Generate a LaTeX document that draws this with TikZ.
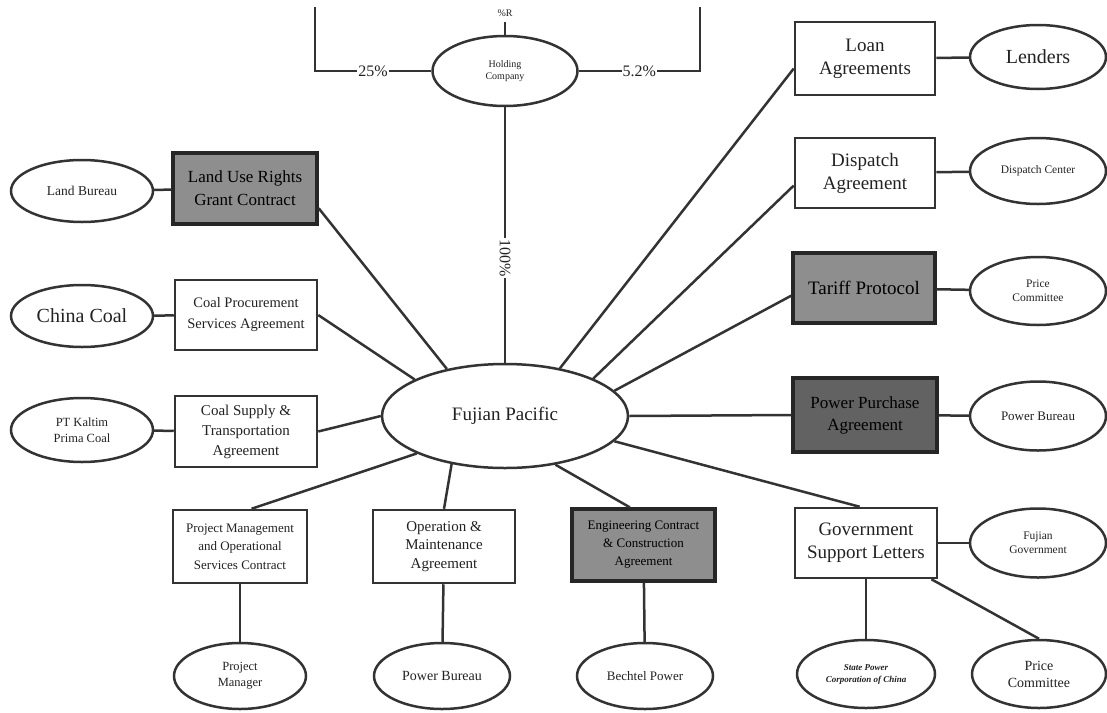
\documentclass[tikz,border=0pt]{standalone}
\usepackage{fontspec}
\setmainfont{Liberation Serif}
\usetikzlibrary{shapes.geometric,calc}
\definecolor{ink}{HTML}{333333}
\definecolor{txt}{HTML}{222222}
\definecolor{shade}{HTML}{8E8E8E}
\definecolor{shadedark}{HTML}{626262}
\newcommand\myfs[2]{\fontsize{#1}{#2}\selectfont}
\begin{document}
\begin{tikzpicture}[x=1pt,y=-1pt,
 line/.style={draw=ink,line width=2.5pt},
 ell/.style={ellipse,draw=ink,line width=2.5pt,fill=white,inner sep=0pt,align=center,text=txt},
 box/.style={rectangle,draw=ink,line width=2.5pt,fill=white,inner sep=0pt,align=center,text=txt},
 gbox/.style={box,fill=shade,draw=black!85,line width=3.4pt,text=black},
 lbl/.style={fill=white,inner sep=1pt,text=txt}]
\fill[white] (0,0) rectangle (1107,712);
\useasboundingbox (0,0) rectangle (1107,712);

% ---- holding company
\node[ell,minimum width=145,minimum height=70,font=\myfs{10}{12}] (hc) at (505,71) {Holding\\Company};
\coordinate (c1) at (315,71);
\coordinate (c2) at (315,7);
\coordinate (c3) at (700,71);
\coordinate (c4) at (700,7);
\coordinate (ct) at (505,22);
\node[text=txt,inner sep=0pt,font=\myfs{10}{12}] (rt) at (505,13) {\%R};

% ---- centre
\node[ell,minimum width=246,minimum height=104,font=\myfs{19}{22}] (fp) at (505,416) {Fujian Pacific};

% ---- left column
\node[ell,minimum width=142,minimum height=62,font=\myfs{13.5}{15}] (lb) at (82,191) {Land Bureau};
\node[gbox,minimum width=144,minimum height=71,font=\myfs{17}{23}] (lu) at (245,188.5) {Land Use Rights\\Grant Contract};
\node[ell,minimum width=142,minimum height=62,font=\myfs{20}{23}] (cc) at (82,316) {China Coal};
\node[box,minimum width=142,minimum height=70,font=\myfs{14.5}{21}] (cp) at (246,315) {Coal Procurement\\Services Agreement};
\node[ell,minimum width=142,minimum height=64,font=\myfs{12.5}{16}] (pt) at (82,430) {PT Kaltim\\Prima Coal};
\node[box,minimum width=142,minimum height=71,font=\myfs{15}{20}] (cs) at (246,431.5) {Coal Supply \&\\Transportation\\Agreement};

% ---- bottom row
\node[box,minimum width=134,minimum height=73,font=\myfs{13}{18.5}] (pmc) at (240,546.5) {Project Management\\and Operational\\Services Contract};
\node[box,minimum width=142,minimum height=73,font=\myfs{15}{18.5}] (om) at (444,546.5) {Operation \&\\Maintenance\\Agreement};
\node[gbox,minimum width=143,minimum height=72,font=\myfs{13}{18}] (ec) at (643.5,545) {Engineering Contract\\\& Construction\\Agreement};
\node[ell,minimum width=132,minimum height=66,font=\myfs{12.5}{16}] (pm) at (240,676) {Project\\Manager};
\node[ell,minimum width=136,minimum height=66,font=\myfs{14}{16}] (pw) at (442,676) {Power Bureau};
\node[ell,minimum width=136,minimum height=66,font=\myfs{13}{16}] (bp) at (645,676) {Bechtel Power};

% ---- right column
\node[box,minimum width=140,minimum height=73,font=\myfs{19}{23}] (la) at (865,58.5) {Loan\\Agreements};
\node[ell,minimum width=136,minimum height=64,font=\myfs{20}{23}] (le) at (1038,57) {Lenders};
\node[box,minimum width=140,minimum height=70,font=\myfs{19}{23}] (da) at (865,173) {Dispatch\\Agreement};
\node[ell,minimum width=136,minimum height=66,font=\myfs{11.5}{13}] (dc) at (1038,171) {Dispatch Center};
\node[gbox,minimum width=142,minimum height=70,font=\myfs{19}{22}] (tp) at (864,288) {Tariff Protocol};
\node[ell,minimum width=136,minimum height=68,font=\myfs{11.5}{14}] (pc1) at (1038,291) {Price\\Committee};
\node[gbox,fill=shadedark,minimum width=144,minimum height=74,font=\myfs{17}{22}] (ppa) at (865,415) {Power Purchase\\Agreement};
\node[ell,minimum width=136,minimum height=69,font=\myfs{13}{15}] (pb1) at (1038,416) {Power Bureau};
\node[box,minimum width=142,minimum height=70,font=\myfs{19}{23}] (gv) at (866,543) {Government\\Support Letters};
\node[ell,minimum width=136,minimum height=69,font=\myfs{11.5}{14}] (fg) at (1038,543) {Fujian\\Government};
\node[ell,minimum width=138,minimum height=68,font=\myfs{9}{12}\itshape\bfseries] (sp) at (866,674) {State Power\\Corporation of China};
\node[ell,minimum width=134,minimum height=68,font=\myfs{14}{17}] (pc2) at (1039,674) {Price\\Committee};

% ---- connectors
\draw[line] (hc.west) -- node[lbl,font=\myfs{16}{18}]{25\%} (c1) -- (c2);
\draw[line] (hc.east) -- node[lbl,font=\myfs{16}{18}]{5.2\%} (c3) -- (c4);
\draw[line] (hc.north) -- (ct);
\draw[line] (hc.south) -- node[lbl,pos=0.59,rotate=-90,font=\myfs{16}{18}]{100\%} (fp.north);

\draw[line] (lb) -- (lu);
\draw[line] (cc) -- (cp);
\draw[line] (pt) -- (cs);
\draw[line] (lu.-15) -- (fp.141);
\draw[line] (cp.east) -- (fp.158);
\draw[line] (cs.east) -- (fp.180);
\draw[line] (pmc.73) -- (fp.203);
\draw[line] (om.north) -- (fp.222);
\draw[line] (ec.110) -- (fp.-44);
\draw[line] (pmc) -- (pm);
\draw[line] (om) -- (pw);
\draw[line] (ec) -- (bp);

\draw[line] (la.188) -- (fp.41);
\draw[line] (da.190) -- (fp.23);
\draw[line] (tp.186) -- (fp.13);
\draw[line] (ppa.west) -- (fp.east);
\draw[line] (gv.100) -- (fp.-13);
\draw[line] (la) -- (le);
\draw[line] (da) -- (dc);
\draw[line] (tp) -- (pc1);
\draw[line] (ppa) -- (pb1);
\draw[line] (gv) -- (fg);
\draw[line] (gv) -- (sp);
\draw[line] (gv.-29) -- (pc2.north);
\end{tikzpicture}
\end{document}
